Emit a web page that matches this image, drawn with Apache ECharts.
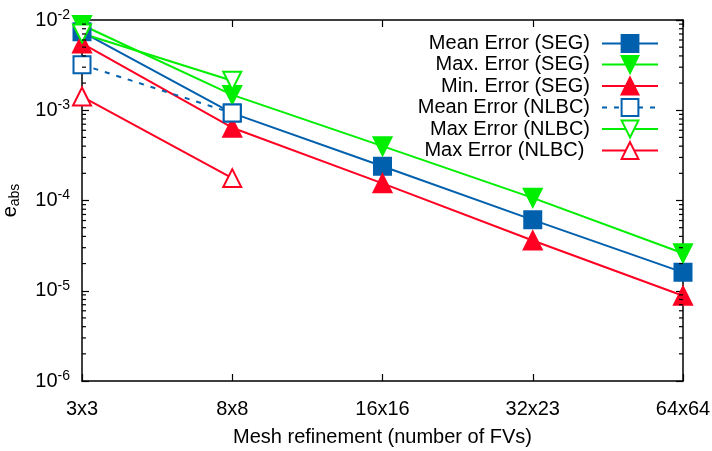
<!DOCTYPE html>
<html>
<head>
<meta charset="utf-8">
<script src="https://cdn.jsdelivr.net/npm/echarts@6/dist/echarts.min.js"></script>
<style>html,body{margin:0;padding:0;background:#fff}#c{width:712px;height:451px}</style>
</head>
<body>
<div id="c"></div>
<script>
const categories = ['3x3', '8x8', '16x16', '32x23', '64x64'];
const meanSEG  = [7.4e-3, 9.3e-4, 2.4e-4, 6.1e-5, 1.6e-5];
const maxSEG   = [8.8e-3, 1.48e-3, 4.0e-4, 1.07e-4, 2.6e-5];
const minSEG   = [5.5e-3, 6.4e-4, 1.55e-4, 3.6e-5, 8.8e-6];
const meanNLBC = [3.2e-3, 9.3e-4];
const maxNLBC  = [7.1e-3, 2.12e-3];
const minNLBC  = [1.42e-3, 1.77e-4];
const seriesNames = ['Mean Error (SEG)', 'Max. Error (SEG)', 'Min. Error (SEG)',
                     'Mean Error (NLBC)', 'Max Error (NLBC)', 'Max Error (NLBC) '];
const yMin = 1e-6, yMax = 1e-2;
const minorTickValues = [];
[1e-6, 1e-5, 1e-4, 1e-3].forEach(function (d) {
  for (let k = 2; k <= 9; k++) minorTickValues.push(k * d);
});

const BLUE = '#0060ad', GREEN = '#00ee00', RED = '#ff0022';
const FONT = 'Liberation Sans';

const chart = echarts.init(document.getElementById('c'), null, {renderer: 'canvas'});

function lineSeries(name, data, color, symbol, size, rotate, dashed) {
  return {
    name: name, type: 'line', data: data,
    symbol: symbol, symbolSize: size, symbolRotate: rotate || 0,
    showSymbol: true, animation: false,
    lineStyle: {color: color, width: 2, type: dashed ? [5, 7] : 'solid'},
    itemStyle: {color: color, borderColor: color, borderWidth: 2},
    emphasis: {disabled: true}
  };
}

const legendRows = [39, 60, 81.5, 103, 124.5, 146];
const legends = seriesNames.map(function (n, i) {
  return {
    data: [n], right: 48, top: legendRows[i] - 10.5,
    orient: 'vertical', align: 'right',
    itemWidth: 56, itemHeight: 21, itemGap: 0,
    selectedMode: false,
    textStyle: {fontFamily: FONT, fontSize: 20, color: '#000', padding: [0, 7, 0, 0]}
  };
});

const axisLineStyle = {color: '#000', width: 1.5};
const option = {
  animation: false,
  backgroundColor: '#fff',
  legend: legends,
  grid: {left: 82, right: 29, top: 20, bottom: 70, containLabel: false, outerBoundsMode: 'none'},
  xAxis: [{
    type: 'category', data: categories, boundaryGap: false, position: 'bottom',
    axisLine: {show: true, lineStyle: axisLineStyle},
    axisTick: {show: true, inside: true, length: 7, lineStyle: {color: '#000', width: 1.2}},
    axisLabel: {fontFamily: FONT, fontSize: 20, color: '#000', margin: 18},
    splitLine: {show: false},
    name: 'Mesh refinement (number of FVs)', nameLocation: 'middle', nameGap: 46,
    nameTextStyle: {fontFamily: FONT, fontSize: 20, color: '#000'}
  }, {
    type: 'category', data: categories, boundaryGap: false, position: 'top',
    axisLine: {show: true, lineStyle: axisLineStyle},
    axisTick: {show: true, inside: true, length: 7, lineStyle: {color: '#000', width: 1.2}},
    axisLabel: {show: false}, splitLine: {show: false}
  }],
  yAxis: [{
    type: 'log', logBase: 10, min: yMin, max: yMax, position: 'left',
    axisLine: {show: true, lineStyle: axisLineStyle},
    axisTick: {show: true, inside: true, length: 7, lineStyle: {color: '#000', width: 1.2}},
    splitLine: {show: false},
    axisLabel: {
      margin: 12, color: '#000',
      formatter: function (v) {
        const e = Math.round(Math.log10(v));
        return '{b|10}{s|' + e + '}';
      },
      rich: {
        b: {fontFamily: FONT, fontSize: 20, color: '#000'},
        s: {fontFamily: FONT, fontSize: 14, color: '#000', padding: [0, 0, 10, 0]}
      }
    },
    name: '{e|e}{s|abs}', nameLocation: 'middle', nameGap: 60, nameRotate: 90,
    nameTextStyle: {
      rich: {
        e: {fontFamily: FONT, fontSize: 20, color: '#000'},
        s: {fontFamily: FONT, fontSize: 14, color: '#000', padding: [9, 0, 0, 0]}
      }
    }
  }, {
    type: 'log', logBase: 10, min: yMin, max: yMax, position: 'right',
    axisLine: {show: true, lineStyle: axisLineStyle},
    axisTick: {show: true, inside: true, length: 7, lineStyle: {color: '#000', width: 1.2}},
    axisLabel: {show: false}, splitLine: {show: false}
  }],
  series: [
    lineSeries(seriesNames[0], meanSEG, BLUE, 'rect', 17, 0, false),
    lineSeries(seriesNames[1], maxSEG, GREEN, 'triangle', 18, 180, false),
    lineSeries(seriesNames[2], minSEG, RED, 'triangle', 18, 0, false),
    lineSeries(seriesNames[3], meanNLBC, BLUE, 'emptyRect', 17, 0, true),
    lineSeries(seriesNames[4], maxNLBC, GREEN, 'emptyTriangle', 18, 180, false),
    lineSeries(seriesNames[5], minNLBC, RED, 'emptyTriangle', 18, 0, false),
    {
      type: 'custom', name: 'minorTicks', silent: true, clip: false, z: 5,
      data: minorTickValues.map(function (v) { return [0, v]; }),
      renderItem: function (params, api) {
        const p = api.coord([0, api.value(1)]);
        const cs = params.coordSys;
        const st = {stroke: '#000', lineWidth: 1.2};
        return {
          type: 'group',
          children: [
            {type: 'line', shape: {x1: cs.x, y1: p[1], x2: cs.x + 4, y2: p[1]}, style: st},
            {type: 'line', shape: {x1: cs.x + cs.width - 4, y1: p[1], x2: cs.x + cs.width, y2: p[1]}, style: st}
          ]
        };
      }
    }
  ]
};
chart.setOption(option);
</script>
</body>
</html>
